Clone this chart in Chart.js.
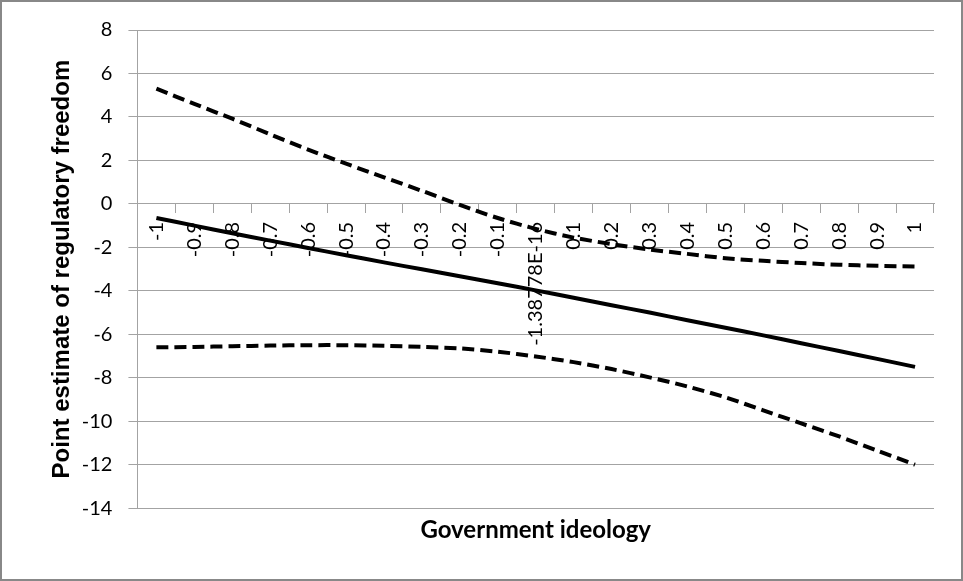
<!DOCTYPE html>
<html>
<head>
<meta charset="utf-8">
<script src="https://cdn.jsdelivr.net/npm/chart.js@4.4.1/dist/chart.umd.min.js"></script>
<style>
    body { margin: 0; background: #fff; }
    #wrap { width: 963px; height: 581px; box-sizing: border-box; border: 2px solid #888; }
    canvas { display: block; }
</style>
</head>
<body>
<div id="wrap"><canvas id="ideologyChart" width="959" height="577"></canvas></div>
<script>
// category labels as Excel printed them (0 shows as a float artefact)
const ideologyLabels = ['-1', '-0.9', '-0.8', '-0.7', '-0.6', '-0.5', '-0.4', '-0.3', '-0.2', '-0.1',
    '-1.38778E-16', '0.1', '0.2', '0.3', '0.4', '0.5', '0.6', '0.7', '0.8', '0.9', '1'];

const pointEstimate = [-0.65, -1.0, -1.35, -1.69, -2.03, -2.36, -2.69, -3.01, -3.33, -3.65,
    -3.98, -4.32, -4.66, -5.0, -5.35, -5.7, -6.05, -6.41, -6.77, -7.13, -7.5];
const upperBound = [5.3, 4.6, 3.92, 3.2, 2.5, 1.85, 1.22, 0.6, -0.05, -0.65,
    -1.15, -1.55, -1.85, -2.1, -2.3, -2.5, -2.62, -2.72, -2.8, -2.85, -2.88];
const lowerBound = [-6.6, -6.58, -6.55, -6.52, -6.5, -6.5, -6.53, -6.58, -6.65, -6.8,
    -7.02, -7.28, -7.6, -7.98, -8.4, -8.9, -9.5, -10.1, -10.7, -11.35, -12.0];

const gridGrey = '#a3a3a3';

const chartElement = document.getElementById('ideologyChart');
const ideologyChart = new Chart(chartElement, {
    type: 'line',
    data: {
        labels: ideologyLabels,
        datasets: [{
            label: 'Point estimate',
            data: pointEstimate,
            borderColor: '#000',
            borderWidth: 4,
            pointRadius: 0,
            tension: 0.3
        }, {
            label: 'Upper bound',
            data: upperBound,
            borderColor: '#000',
            borderWidth: 4,
            borderDash: [12, 6],
            pointRadius: 0,
            tension: 0.3
        }, {
            label: 'Lower bound',
            data: lowerBound,
            borderColor: '#000',
            borderWidth: 4,
            borderDash: [12, 6],
            pointRadius: 0,
            tension: 0.3
        }]
    },
    options: {
        responsive: false,
        animation: false,
        layout: {
            padding: { top: 28, right: 27, bottom: 34, left: 0 }
        },
        plugins: {
            legend: { display: false },
            tooltip: { enabled: false },
            title: {
                display: true,
                position: 'bottom',
                fullSize: false,
                text: 'Government ideology',
                color: '#000',
                font: { family: 'Lato', size: 24, weight: 'bold' },
                padding: { top: 8, bottom: 0 }
            }
        },
        scales: {
            x: {
                position: { y: 0 },
                offset: true,
                grid: {
                    offset: true,
                    drawOnChartArea: false,
                    tickLength: 9,
                    color: gridGrey
                },
                border: { color: gridGrey },
                ticks: {
                    color: '#000',
                    autoSkip: false,
                    minRotation: 90,
                    maxRotation: 90,
                    padding: 9,
                    font: { family: 'Lato', size: 20 }
                }
            },
            y: {
                min: -14,
                max: 8,
                grid: {
                    tickLength: 9,
                    color: gridGrey
                },
                border: { color: gridGrey },
                ticks: {
                    stepSize: 2,
                    color: '#000',
                    padding: 16,
                    font: { family: 'Lato', size: 20 }
                },
                title: {
                    display: true,
                    text: 'Point estimate of regulatory freedom',
                    color: '#000',
                    font: { family: 'Liberation Sans', size: 24, weight: 'bold' },
                    padding: { top: 46, bottom: -11 }
                }
            }
        }
    }
});
</script>
</body>
</html>
